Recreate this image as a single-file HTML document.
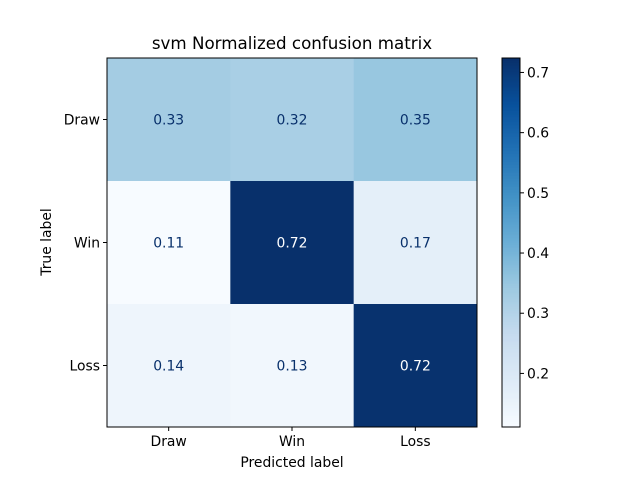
<!DOCTYPE html>
<html><head><meta charset="utf-8"><style>
body{margin:0;background:#fff;}
svg{display:block;font-family:"DejaVu Sans","Liberation Sans",sans-serif;}
</style></head><body>
<svg id="c" width="640" height="480"></svg>
<script>
const classes = ["Draw","Win","Loss"];
const row0 = [0.33,0.32,0.35];
const row1 = [0.111,0.724,0.17];
const row2 = [0.14,0.13,0.72];
const cbTicks = [0.2,0.3,0.4,0.5,0.6,0.7];
const matrix = [row0,row1,row2];
const NS="http://www.w3.org/2000/svg";
const svg=document.getElementById('c');
function mk(t,a,p){const e=document.createElementNS(NS,t);for(const k in a)e.setAttribute(k,a[k]);(p||svg).appendChild(e);return e;}
const stops=["#f7fbff","#deebf7","#c6dbef","#9ecae1","#6baed6","#4292c6","#2171b5","#08519c","#08306b"];
function hex(h){return [1,3,5].map(i=>parseInt(h.substr(i,2),16));}
function blues(t){t=Math.max(0,Math.min(1,t));const s=t*8,i=Math.min(7,Math.floor(s)),f=s-i;const a=hex(stops[i]),b=hex(stops[i+1]);return "rgb("+a.map((v,k)=>Math.round(v+(b[k]-v)*f)).join(",")+")";}
const all=matrix.flat();const vmin=Math.min(...all),vmax=Math.max(...all);
const X0=107,Y0=58,W=370,H=369,n=classes.length,cw=W/n,ch=H/n;
const xPos=j=>X0+j*cw, yPos=i=>Y0+i*ch;
mk('text',{x:292,y:49,'text-anchor':'middle','font-size':16.7,}).textContent="svm Normalized confusion matrix";
matrix.forEach((row,i)=>row.forEach((v,j)=>{
 const t=(v-vmin)/(vmax-vmin);
 const r=mk('rect',{x:xPos(j),y:yPos(i),width:cw+0.5,height:ch+0.5,fill:blues(t)});
 
 
 const tx=mk('text',{x:xPos(j)+cw/2,y:yPos(i)+ch/2+5,'text-anchor':'middle','font-size':13.9,fill:t>0.5?"#ffffff":"#08306b"});
 
 
 tx.textContent=v.toFixed(2);
}));
mk('rect',{x:X0,y:Y0,width:W,height:H,fill:'none',stroke:'#000','stroke-width':1});
classes.forEach((c,j)=>{
 const x=xPos(j)+cw/2;
 mk('line',{x1:x,y1:Y0+H,x2:x,y2:Y0+H+4,stroke:'#000'});
 const t=mk('text',{x:x,y:Y0+H+19,'text-anchor':'middle','font-size':13.9});
 t.textContent=c;
 const y=yPos(j)+ch/2;
 mk('line',{x1:X0-4,y1:y,x2:X0,y2:y,stroke:'#000'});
 const t2=mk('text',{x:X0-7,y:y+5,'text-anchor':'end','font-size':13.9});
 t2.textContent=c;
});
mk('text',{x:292,y:467,'text-anchor':'middle','font-size':13.9,}).textContent="Predicted label";
mk('text',{x:0,y:0,'text-anchor':'middle','font-size':13.9,transform:'translate(51,242) rotate(-90)',}).textContent="True label";
const CX=502,CW=18,CY=58,CH=369;
const cb=mk('g',{});
const cy=v=>CY+CH-(v-vmin)/(vmax-vmin)*CH;
for(let k=0;k<CH;k++){mk('rect',{x:CX,y:CY+CH-k-1,width:CW,height:1.2,fill:blues(k/(CH-1))},cb);}
mk('rect',{x:CX,y:CY,width:CW,height:CH,fill:'none',stroke:'#000','stroke-width':1},cb);
cbTicks.forEach(v=>{const y=cy(v);mk('line',{x1:CX+CW,y1:y,x2:CX+CW+4,y2:y,stroke:'#000'},cb);
 const t=mk('text',{x:CX+CW+7,y:y+5,'font-size':13.9},cb);t.textContent=v.toFixed(1);});
</script>
</body></html>
